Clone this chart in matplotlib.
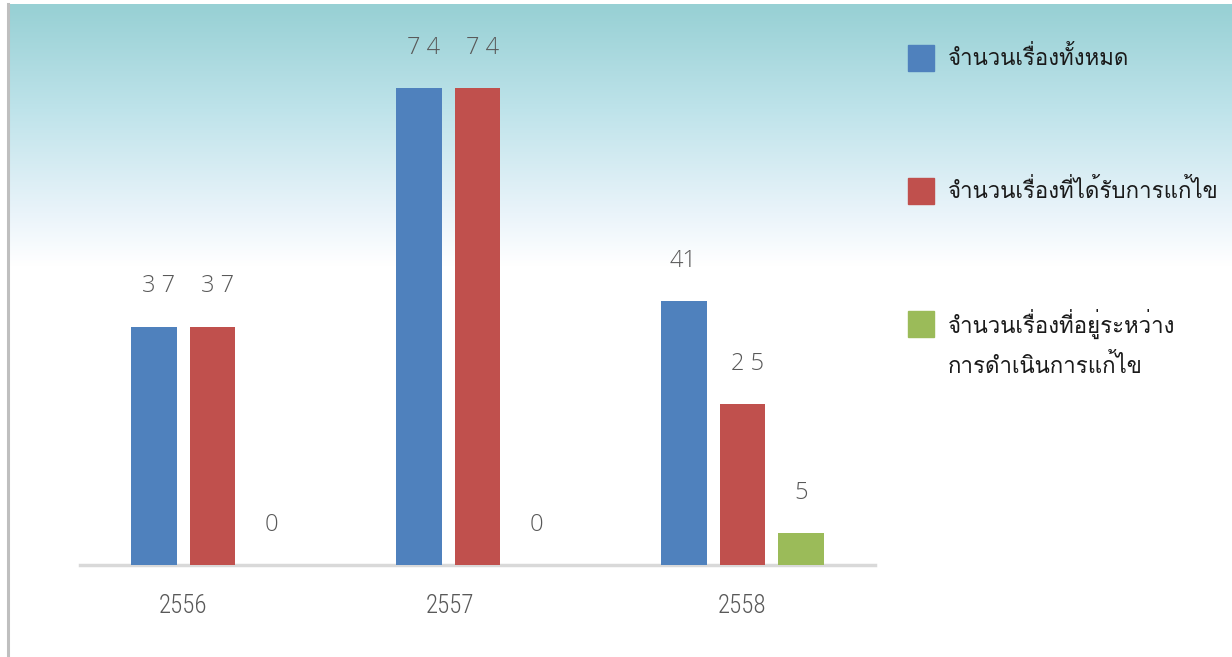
import numpy as np
import matplotlib
matplotlib.use("Agg")
import matplotlib.pyplot as plt
from matplotlib import font_manager
from matplotlib.patches import Rectangle

# ---------------- data ----------------
categories = ["2556", "2557", "2558"]
series_names = ["จำนวนเรื่องทั้งหมด",
                "จำนวนเรื่องที่ได้รับการแก้ไข",
                "จำนวนเรื่องที่อยู่ระหว่าง\nการดำเนินการแก้ไข"]
total = [37, 74, 41]
resolved = [37, 74, 25]
pending = [0, 0, 5]
value_labels = [["3 7", "7 4", "41"], ["3 7", "7 4", "2 5"], ["0", "0", "5"]]
colors = ["#4F81BD", "#C0504D", "#9BBB59"]

# ---------------- fonts ----------------
names = {f.name for f in font_manager.fontManager.ttflist}
def pick(cands):
    return [c for c in cands if c in names] + ["DejaVu Sans"]
thai_family = pick(["Umpush", "Waree", "Loma"])
tick_family = pick(["Roboto Condensed", "Barlow Condensed", "Fira Sans Extra Condensed"])
val_family = pick(["Open Sans", "Lato"])

W, H = 1232, 657
fig = plt.figure(figsize=(W / 100, H / 100), dpi=100)

# background gradient
bg = fig.add_axes([9 / W, 0, 1 - 9 / W, (H - 4) / H])
bg.set_axis_off()
n = 400
ys = np.linspace(0, 1, n)  # 0 = top
top = np.array([151, 208, 212]) / 255
mid = np.array([190, 227, 234]) / 255
low = np.array([234, 244, 250]) / 255
white = np.array([1, 1, 1])
pts = [0, 0.16, 0.32, 0.40, 1.0]
cols = [top, mid, low, white, white]
grad = np.zeros((n, 1, 3))
for c in range(3):
    grad[:, 0, c] = np.interp(ys, pts, [col[c] for col in cols])
bg.imshow(grad, aspect="auto", extent=[0, 1, 0, 1], origin="upper")
bg.set_xlim(0, 1)
bg.set_ylim(0, 1)

# left border
fig.add_artist(plt.Line2D([8 / W, 8 / W], [0, (H - 4) / H], color="#BFBFBF", lw=2.2))

# main axes
x0, x1 = 80, 875
yb, yt = 565, 20
ax = fig.add_axes([x0 / W, (H - yb) / H, (x1 - x0) / W, (yb - yt) / H])
ax.patch.set_alpha(0)
px_per_unit = (565 - 88) / 74
ax.set_ylim(0, (yb - yt) / px_per_unit)
ax.set_xlim(-0.5, 2.5)

x = np.arange(len(categories))
bw = 46 / 265.5
off = 59 / 265.5
label_gap = 40 / px_per_unit
for i, (vals, c) in enumerate(zip([total, resolved, pending], colors)):
    xs = x + (i - 1) * off
    ax.bar(xs, vals, width=bw, color=c, edgecolor="none", zorder=3)
    for xx, v, lab in zip(xs, vals, value_labels[i]):
        shift = 0.02 if " " in lab else 0.0
        ax.text(xx + shift, v + label_gap, lab, ha="center", va="center",
                fontsize=17, fontweight="light", color="#595959", family=val_family)

for s in ["top", "right", "left"]:
    ax.spines[s].set_visible(False)
ax.spines["bottom"].set_color("#D9D9D9")
ax.spines["bottom"].set_linewidth(2.5)
ax.set_yticks([])
tick_shift = [-0.113, -0.105, 0.0]
ax.set_xticks(x + np.array(tick_shift))
ax.set_xticklabels(categories, fontsize=18, fontweight="light", color="#595959", family=tick_family)
ax.tick_params(axis="x", length=0, pad=21)

# legend (manual)
leg_y = [58, 191, 324]
for name, c, yc in zip(series_names, colors, leg_y):
    fig.add_artist(Rectangle((908 / W, (H - yc - 13) / H), 26 / W, 26 / H,
                             transform=fig.transFigure, color=c))
    lines = name.split("\n")
    for k, line in enumerate(lines):
        fig.text(948 / W, (H - yc - 42 * k) / H, line, ha="left", va="center",
                 fontsize=16, fontweight="normal", family=thai_family, color="#1a1a1a")

fig.savefig("out.png", dpi=100)
